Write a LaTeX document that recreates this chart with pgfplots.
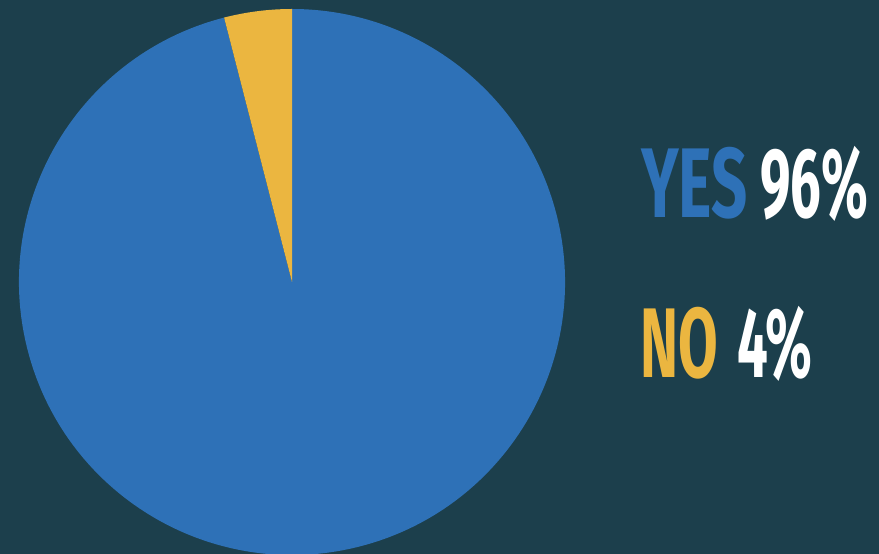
\documentclass[border=0pt]{standalone}
\usepackage{pgfplots}
\usepackage{pgfplotstable}
\pgfplotsset{compat=1.18}
\usepackage{fontspec}
\setmainfont{Fira Sans}
\usepackage{graphicx}
\definecolor{bgcol}{HTML}{1C3F4C}
\definecolor{pieblue}{HTML}{2E71B7}
\definecolor{pieyellow}{HTML}{EBB640}
\pgfplotstableread{
label value
Yes 96
No 4
}\piedata
\newcommand{\bigtxt}[3]{\scalebox{#1}[1]{\fontsize{99}{99}\selectfont\bfseries\color{#2}#3}}
\begin{document}
\begin{tikzpicture}
\pgfplotstablegetelem{0}{value}\of\piedata \let\yesval\pgfplotsretval
\pgfplotstablegetelem{1}{value}\of\piedata \let\noval\pgfplotsretval
\pgfmathsetmacro\noang{\noval*3.6}
\begin{axis}[
  scale only axis, width=879pt, height=554pt,
  xmin=0, xmax=879, ymin=0, ymax=554,
  hide axis, clip=true,
]
\fill[bgcol] (axis cs:0,0) rectangle (axis cs:879,554);
\fill[pieblue] (axis cs:292,272) -- ++({90+\noang}:273pt) arc[start angle={90+\noang}, end angle=450, radius=273pt] -- cycle;
\fill[pieyellow] (axis cs:292,272) -- ++(90:273pt) arc[start angle=90, end angle={90+\noang}, radius=273pt] -- cycle;
\node[anchor=base west, inner sep=0pt] at (axis cs:641,336) {\bigtxt{0.64}{pieblue}{YES}};
\node[anchor=base west, inner sep=0pt] at (axis cs:760,336) {\bigtxt{0.55}{white}{\yesval\%}};
\node[anchor=base west, inner sep=0pt] at (axis cs:640,176) {\bigtxt{0.58}{pieyellow}{NO}};
\node[anchor=base west, inner sep=0pt] at (axis cs:737,176) {\bigtxt{0.55}{white}{\noval\%}};
\end{axis}
\end{tikzpicture}
\end{document}
